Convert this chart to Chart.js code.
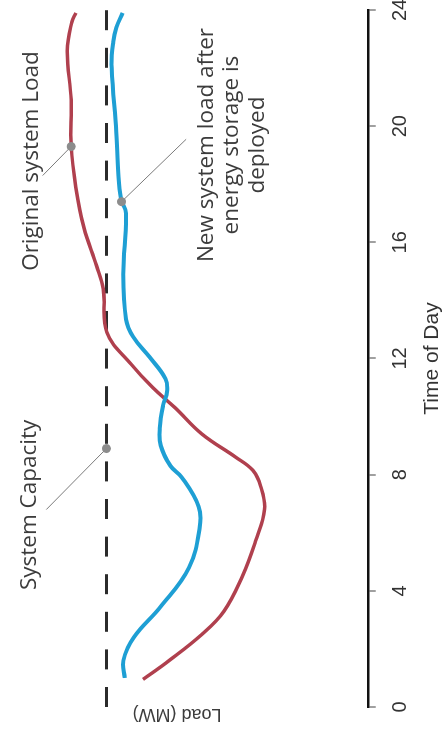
<!DOCTYPE html>
<html>
<head>
<meta charset="utf-8">
<script src="https://cdn.jsdelivr.net/npm/chart.js@4.4.1/dist/chart.umd.min.js"></script>
<style>
  html, body { margin: 0; padding: 0; background: #fff; overflow: hidden; }
  /* chart is drawn landscape and then turned a quarter turn counter-clockwise */
  #wrap {
    position: absolute; left: 0; top: 0;
    width: 736px; height: 445px;
    transform-origin: 0 0;
    transform: translateY(736px) rotate(-90deg);
  }
</style>
</head>
<body>
<div id="wrap"><canvas id="chartLoad" width="736" height="445"></canvas></div>
<script>
// time of day (hours) and load values
let hourTicks = [0, 4, 8, 12, 16, 20, 24];

let origHours = [0.95, 1.6, 2.5, 3.3, 4.5, 5.7, 6.8, 7.6, 8.15, 8.6, 9.4, 10.3, 11.0, 11.8, 12.9, 14.4, 15.2, 16.5, 17.9, 19.3, 20.9, 22.6, 23.6, 23.9];
let origLoad  = [86, 76, 63.5, 55, 48, 43, 39.5, 41, 44, 50.5, 63.5, 73.7, 82.3, 90.5, 99.8, 101.2, 103.8, 108.6, 111.7, 113.5, 113.5, 115, 113.2, 111.7];

let newHours = [1.0, 1.6, 2.4, 3.45, 4.8, 6.2, 6.9, 7.9, 8.3, 9.0, 9.6, 10.4, 10.85, 11.3, 12.05, 12.75, 13.35, 14.9, 17.0, 17.5, 18.4, 19.8, 22.0, 22.9, 23.4, 23.9];
let newLoad  = [93, 93.5, 89.5, 79.3, 68.4, 64.3, 64.7, 71.1, 75.5, 79.2, 79.6, 78.3, 76.8, 77.4, 83.5, 89.8, 92.5, 93.6, 92.5, 94.4, 95.5, 96.2, 98, 97.4, 96.2, 93.8];

let capHours = [0, 24];
let capLoad  = [100, 100];

// callout markers: hour and load where each label points
let markHours = [19.3, 17.4, 8.9];
let markLoad  = [113.5, 94.2, 100];

function pts(xs, ys) {
    return xs.map((x, i) => ({ x: x, y: ys[i] }));
}

// callout labels and where their leader line starts (in chart units)
let callouts = [
    { lines: ["Original system Load"], x: 18.8, y: [128.6], from: { x: 18.3, y: 124.4 }, mark: 0 },
    { lines: ["New system load after", "energy storage is", "deployed"], x: 19.35, y: [61.8, 52, 42.2], from: { x: 19.55, y: 69.5 }, mark: 1 },
    { lines: ["System Capacity"], x: 6.96, y: [129.3], from: { x: 6.8, y: 123 }, mark: 2 }
];

let leaderSets = callouts.map(c => ({
    data: [c.from, { x: markHours[c.mark], y: markLoad[c.mark] }],
    borderColor: "#7a7a7a",
    borderWidth: 1,
    pointRadius: 0,
    order: 2
}));

const calloutText = {
    id: "calloutText",
    afterDraw(chart) {
        const ctx = chart.ctx;
        const xs = chart.scales.x, ys = chart.scales.y;
        ctx.save();
        ctx.fillStyle = "#3c3c3c";
        ctx.font = "22.5px 'Open Sans'";
        ctx.textAlign = "center";
        ctx.textBaseline = "middle";
        callouts.forEach(c => {
            c.lines.forEach((line, i) => {
                ctx.fillText(line, xs.getPixelForValue(c.x), ys.getPixelForValue(c.y[i]));
            });
        });
        // y axis title, drawn by hand so it can sit off-centre like the original
        ctx.translate(chart.chartArea.left - 7, ys.getPixelForValue(73));
        ctx.rotate(-Math.PI / 2);
        ctx.font = "18px 'Liberation Sans'";
        ctx.fillText("Load (MW)", 0, 0);
        ctx.restore();
    }
};

new Chart("chartLoad", {
    type: "line",
    data: {
        datasets: [{
            label: "Original system Load",
            data: pts(origHours, origLoad),
            borderColor: "#b0404e",
            borderWidth: 3.5,
            pointRadius: 0,
            tension: 0.4,
            order: 4
        }, {
            label: "New system load",
            data: pts(newHours, newLoad),
            borderColor: "#1e9fd4",
            borderWidth: 4,
            pointRadius: 0,
            tension: 0.4,
            order: 3
        }, {
            label: "System Capacity",
            data: pts(capHours, capLoad),
            borderColor: "#2b2b2b",
            borderWidth: 3,
            borderDash: [20, 17.6],
            pointRadius: 0,
            order: 5
        }].concat(leaderSets, [{
            label: "markers",
            data: pts(markHours, markLoad),
            showLine: false,
            pointRadius: 4.5,
            pointBackgroundColor: "#8c8c8c",
            pointBorderWidth: 0,
            order: 1
        }])
    },
    options: {
        responsive: false,
        animation: false,
        layout: { padding: { left: 29, right: 10, top: 0, bottom: 0 } },
        plugins: {
            legend: { display: false },
            tooltip: { enabled: false }
        },
        scales: {
            x: {
                type: "linear",
                min: 0,
                max: 24,
                afterBuildTicks: axis => { axis.ticks = hourTicks.map(v => ({ value: v })); },
                afterFit: axis => { axis.paddingLeft = 0; axis.paddingRight = 0; },
                grid: { drawOnChartArea: false, tickLength: 8, color: "#a0a0a0", lineWidth: 2 },
                border: { color: "#111", width: 2.5 },
                ticks: { padding: 13, color: "#333", font: { family: "'Liberation Sans Narrow', 'Liberation Sans'", size: 20 } },
                title: {
                    display: true,
                    text: "Time of Day",
                    color: "#333",
                    padding: { top: -6, bottom: 0 },
                    font: { family: "'Liberation Sans Narrow', 'Liberation Sans'", size: 21 }
                }
            },
            y: {
                display: false,
                min: 0,
                max: 139
            }
        }
    },
    plugins: [calloutText]
});
</script>
</body>
</html>
